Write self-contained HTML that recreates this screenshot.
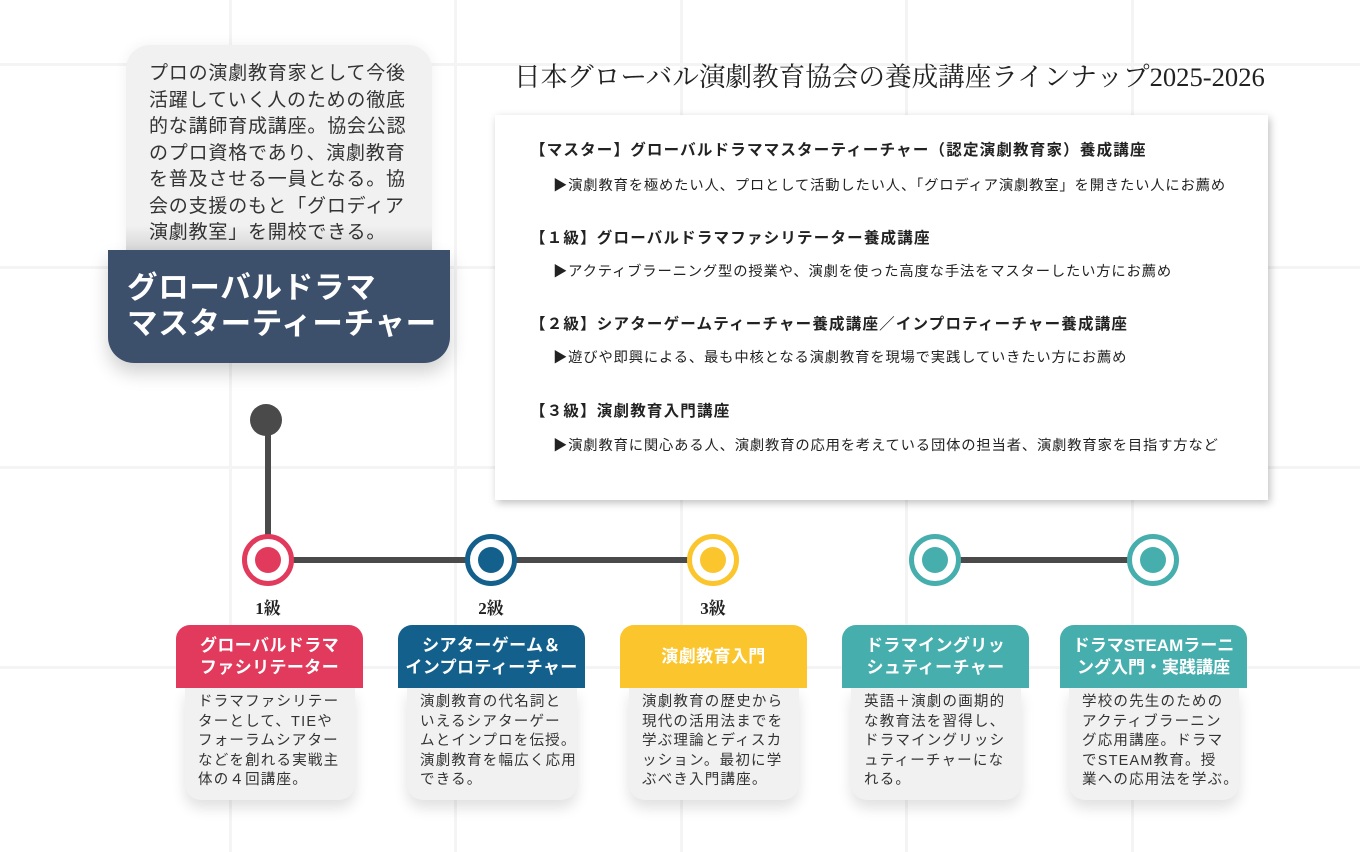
<!DOCTYPE html>
<html><head><meta charset="utf-8"><style>
*{margin:0;padding:0;box-sizing:border-box}
body{width:1360px;height:852px;background:#fff;position:relative;overflow:hidden;font-family:"Liberation Sans","Noto Sans CJK JP",sans-serif;color:#222}
.a{position:absolute}
.vl{position:absolute;top:0;width:3px;height:852px;background:#f4f4f4}
.hl{position:absolute;left:0;height:3px;width:1360px;background:#f4f4f4}
.hd{position:absolute;top:625px;width:187px;height:63px;border-radius:14px 14px 0 0;color:#fff;font-weight:bold;font-size:17px;line-height:22px;display:flex;align-items:center;justify-content:center;text-align:center;letter-spacing:0.4px;white-space:nowrap}
.bd{position:absolute;top:688px;width:170px;height:112px;background:#f1f1f1;border-radius:0 0 16px 16px;box-shadow:0 8px 14px rgba(0,0,0,0.12);font-size:14.5px;line-height:19.5px;color:#333;padding:5px 0 0 13px;letter-spacing:1.2px;white-space:nowrap}
.c{position:absolute;top:534px;width:52px;height:52px;border-radius:50%;background:#fff;border:5px solid}
.c i{position:absolute;left:8px;top:8px;width:26px;height:26px;border-radius:50%}
.lv{position:absolute;top:594px;width:60px;text-align:center;font-family:"Liberation Serif","Noto Serif CJK JP",serif;font-weight:bold;font-size:17px}
.h{position:absolute;left:530px;font-size:15.5px;font-weight:bold;color:#222;letter-spacing:1.2px;white-space:nowrap}
.s{position:absolute;left:553px;font-size:14.3px;color:#222;letter-spacing:0.85px;white-space:nowrap}
</style></head><body>
<div class="vl" style="left:229px"></div><div class="vl" style="left:454px"></div><div class="vl" style="left:680px"></div><div class="vl" style="left:905px"></div><div class="vl" style="left:1131px"></div>
<div class="hl" style="top:63px"></div><div class="hl" style="top:266px"></div><div class="hl" style="top:466px"></div><div class="hl" style="top:666px"></div>

<div class="a" style="left:126px;top:45px;width:306px;height:215px;background:#f1f1f1;border-radius:24px 24px 0 0;box-shadow:0 0 14px rgba(0,0,0,0.06)"></div>
<div class="a" style="left:149px;top:61px;font-size:19px;line-height:26.5px;letter-spacing:0.8px;color:#333;white-space:nowrap">プロの演劇教育家として今後<br>活躍していく人のための徹底<br>的な講師育成講座。協会公認<br>のプロ資格であり、演劇教育<br>を普及させる一員となる。協<br>会の支援のもと「グロディア<br>演劇教室」を開校できる。</div>
<div class="a" style="left:126px;top:225px;width:306px;height:28px;background:linear-gradient(rgba(0,0,0,0),rgba(0,0,0,0.12))"></div>
<div class="a" style="left:108px;top:250px;width:342px;height:113px;background:#3c4f6b;border-radius:0 0 26px 26px;box-shadow:0 10px 18px rgba(0,0,0,0.18)"></div>
<div class="a" style="left:127px;top:270px;font-size:30.5px;line-height:36px;font-weight:bold;color:#fff;white-space:nowrap;letter-spacing:0.7px">グローバルドラマ<br>マスターティーチャー</div>

<div class="a" style="left:514px;top:55px;font-family:'Liberation Serif','Noto Serif CJK JP',serif;font-size:26.6px;color:#222;white-space:nowrap">日本グローバル演劇教育協会の養成講座ラインナップ2025-2026</div>

<div class="a" style="left:495px;top:115px;width:773px;height:385px;background:#fff;box-shadow:2px 3px 8px rgba(0,0,0,0.25)"></div>
<div class="h" style="top:138px">【マスター】グローバルドラママスターティーチャー（認定演劇教育家）養成講座</div>
<div class="s" style="top:174px">▶演劇教育を極めたい人、プロとして活動したい人、「グロディア演劇教室」を開きたい人にお薦め</div>
<div class="h" style="top:226px">【１級】グローバルドラマファシリテーター養成講座</div>
<div class="s" style="top:260px">▶アクティブラーニング型の授業や、演劇を使った高度な手法をマスターしたい方にお薦め</div>
<div class="h" style="top:312px">【２級】シアターゲームティーチャー養成講座／インプロティーチャー養成講座</div>
<div class="s" style="top:346px">▶遊びや即興による、最も中核となる演劇教育を現場で実践していきたい方にお薦め</div>
<div class="h" style="top:399px">【３級】演劇教育入門講座</div>
<div class="s" style="top:434px">▶演劇教育に関心ある人、演劇教育の応用を考えている団体の担当者、演劇教育家を目指す方など</div>

<div class="a" style="left:250px;top:404px;width:32px;height:32px;border-radius:50%;background:#4a4a4a"></div>
<div class="a" style="left:265px;top:420px;width:6px;height:140px;background:#4a4a4a"></div>
<div class="a" style="left:268px;top:557px;width:445px;height:6px;background:#4a4a4a"></div>
<div class="a" style="left:935px;top:557px;width:218px;height:6px;background:#4a4a4a"></div>

<div class="c" style="left:242px;border-color:#e23a5c"><i style="background:#e23a5c"></i></div>
<div class="c" style="left:465px;border-color:#13608c"><i style="background:#13608c"></i></div>
<div class="c" style="left:687px;border-color:#fbc52d"><i style="background:#fbc52d"></i></div>
<div class="c" style="left:909px;border-color:#47aeae"><i style="background:#47aeae"></i></div>
<div class="c" style="left:1127px;border-color:#47aeae"><i style="background:#47aeae"></i></div>

<div class="lv" style="left:238px">1級</div>
<div class="lv" style="left:461px">2級</div>
<div class="lv" style="left:683px">3級</div>

<div class="bd" style="left:185px">ドラマファシリテー<br>ターとして、TIEや<br>フォーラムシアター<br>などを創れる実戦主<br>体の４回講座。</div>
<div class="hd" style="left:176px;background:#e23a5c">グローバルドラマ<br>ファシリテーター</div>
<div class="bd" style="left:407px">演劇教育の代名詞と<br>いえるシアターゲー<br>ムとインプロを伝授。<br>演劇教育を幅広く応用<br>できる。</div>
<div class="hd" style="left:398px;background:#13608c">シアターゲーム＆<br>インプロティーチャー</div>
<div class="bd" style="left:629px">演劇教育の歴史から<br>現代の活用法までを<br>学ぶ理論とディスカ<br>ッション。最初に学<br>ぶべき入門講座。</div>
<div class="hd" style="left:620px;background:#fbc52d">演劇教育入門</div>
<div class="bd" style="left:851px">英語＋演劇の画期的<br>な教育法を習得し、<br>ドラマイングリッシ<br>ュティーチャーにな<br>れる。</div>
<div class="hd" style="left:842px;background:#47aeae">ドラマイングリッ<br>シュティーチャー</div>
<div class="bd" style="left:1069px">学校の先生のための<br>アクティブラーニン<br>グ応用講座。ドラマ<br>でSTEAM教育。授<br>業への応用法を学ぶ。</div>
<div class="hd" style="left:1060px;background:#47aeae;letter-spacing:0">ドラマSTEAMラーニ<br>ング入門・実践講座</div>
</body></html>
